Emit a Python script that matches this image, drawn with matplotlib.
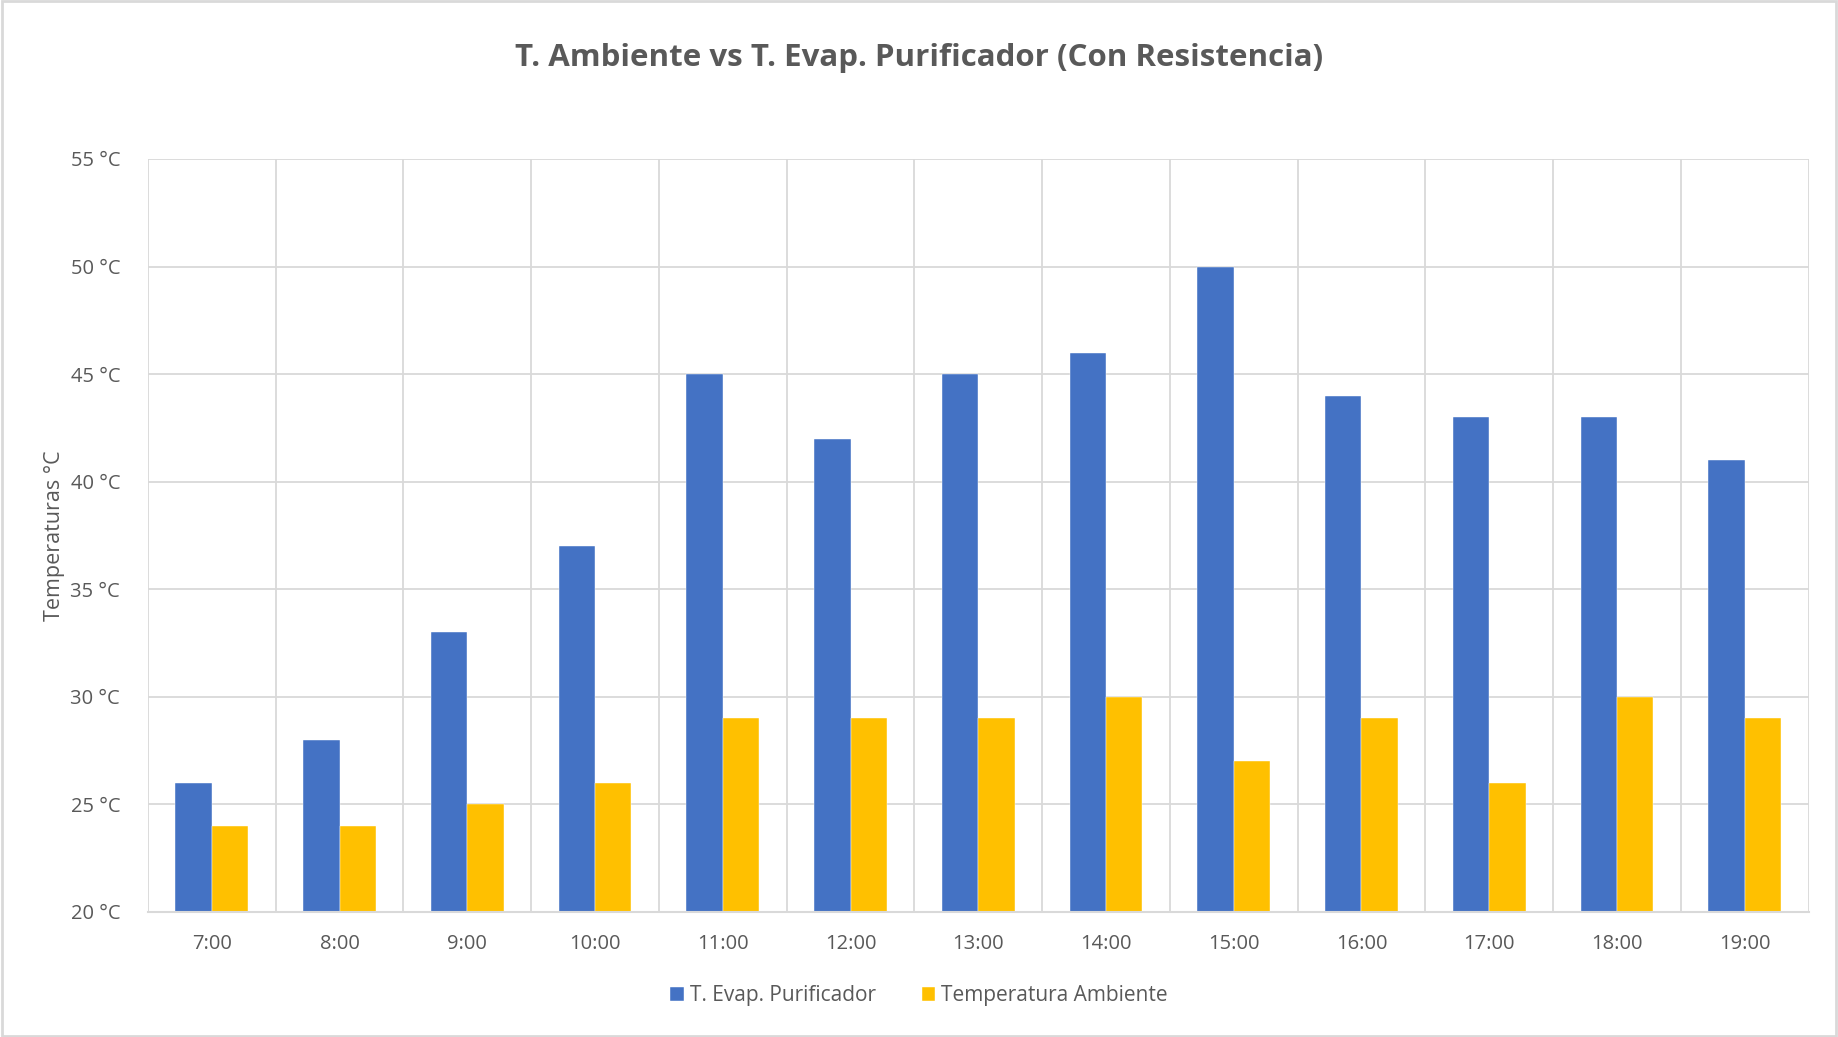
import numpy as np
import matplotlib.pyplot as plt
from matplotlib.patches import Rectangle

horas = ['7:00', '8:00', '9:00', '10:00', '11:00', '12:00', '13:00',
         '14:00', '15:00', '16:00', '17:00', '18:00', '19:00']
t_evap = [26, 28, 33, 37, 45, 42, 45, 46, 50, 44, 43, 43, 41]
t_amb = [24, 24, 25, 26, 29, 29, 29, 30, 27, 29, 26, 30, 29]

azul = '#4472C4'
amarillo = '#FFC000'
gris_txt = '#595959'
gris_grid = '#D9D9D9'

plt.rcParams['font.family'] = ['Open Sans', 'DejaVu Sans']

fig = plt.figure(figsize=(18.38, 10.37), dpi=100)
ax = fig.add_axes([0.0805, 0.1206, 0.9035, 0.7261])

x = np.arange(len(horas))
w = 0.285
b1 = ax.bar(x - w / 2, np.array(t_evap) - 20, w, bottom=20, color=azul,
            edgecolor='white', linewidth=0.3, label='T. Evap. Purificador')
b2 = ax.bar(x + w / 2, np.array(t_amb) - 20, w, bottom=20, color=amarillo,
            edgecolor='white', linewidth=0.3, label='Temperatura Ambiente')

ax.set_xlim(-0.5, len(horas) - 0.5)
ax.set_ylim(20, 55)
ax.set_yticks(range(20, 56, 5))
ax.set_yticklabels([f'{v} °C' for v in range(20, 56, 5)])
ax.set_xticks(x)
ax.set_xticklabels(horas)

# rejilla horizontal y separadores verticales entre categorías
for v in range(25, 56, 5):
    ax.axhline(v, color=gris_grid, lw=1.3, zorder=0)
for s in np.arange(-0.5, len(horas), 1.0):
    ax.axvline(s, color=gris_grid, lw=1.3, zorder=0)

for sp in ['top', 'right', 'left']:
    ax.spines[sp].set_visible(False)
ax.spines['bottom'].set_color(gris_grid)
ax.spines['bottom'].set_linewidth(1.5)
ax.tick_params(length=0, labelsize=14.5, colors=gris_txt)
ax.tick_params(axis='y', pad=20)
ax.tick_params(axis='x', pad=16)

ax.set_ylabel('Temperaturas °C', fontsize=15.5, color=gris_txt, labelpad=4)

fig.text(0.5, 0.944, 'T. Ambiente vs T. Evap. Purificador (Con Resistencia)',
         ha='center', va='center', fontsize=22.5, fontweight='bold', color=gris_txt)

fig.legend(handles=[b1, b2], loc='center', bbox_to_anchor=(0.5, 0.04), ncol=2,
           frameon=False, fontsize=15, labelcolor=gris_txt, handlelength=0.65,
           handleheight=0.65, handletextpad=0.3, columnspacing=2.2)

# marco exterior del gráfico
fig.patches.append(Rectangle((0.001, 0.001), 0.998, 0.998, transform=fig.transFigure,
                             fill=False, edgecolor='#D9D9D9', lw=2))

fig.savefig('out.png', dpi=100)
